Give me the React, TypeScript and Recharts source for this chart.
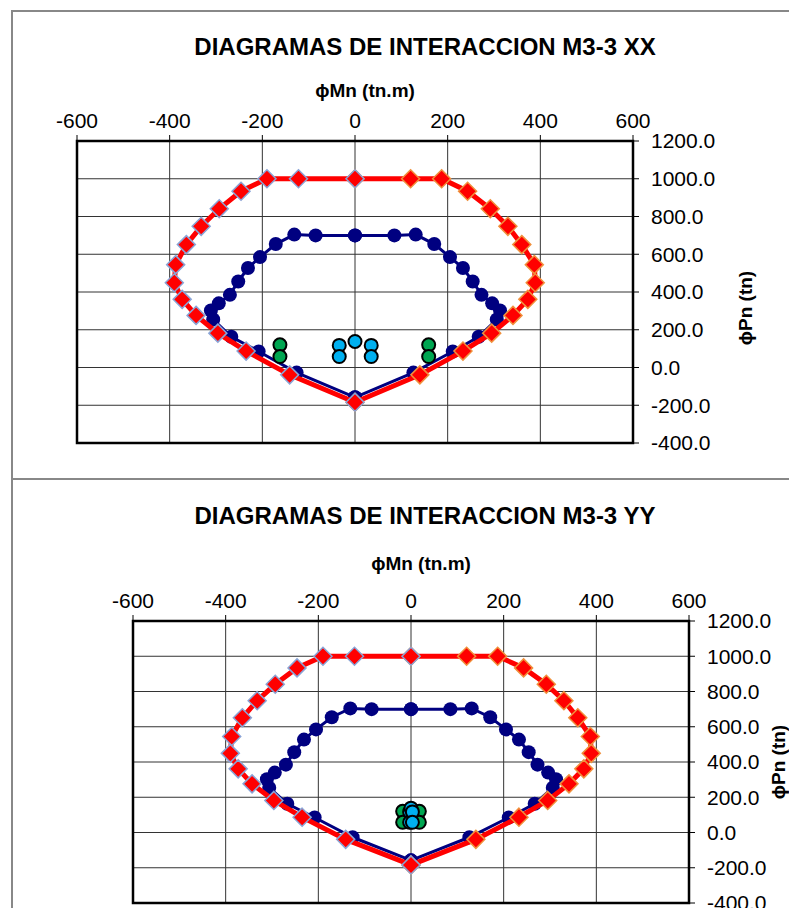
import { ScatterChart, Scatter, XAxis, YAxis, CartesianGrid, ReferenceArea } from "recharts";

const FONT = '"Liberation Sans", Arial, sans-serif';

const mTicks = [-600, -400, -200, 0, 200, 400, 600];
const pTicks = [-400, -200, 0, 200, 400, 600, 800, 1000, 1200];

// outer curve (red diamonds), left and right halves share the P values
const outerP = [1000, 1000, 1000, 934, 841, 748, 651, 545, 449, 361, 276, 182, 87, -39, -184];
const outerLeftM = [0, -122, -190, -246, -293, -332, -364, -387, -390, -373, -343, -296, -235, -141, 0];
const outerRightM = [0, 120, 187, 243, 292, 330, 360, 387, 389, 373, 341, 295, 233, 140, 0];

// inner curve (navy circles)
const innerP = [700, 700, 704, 654, 585, 527, 456, 385, 340, 302, 254, 163, 85, -27, -158];
const innerLeftM = [0, -85, -131, -171, -205, -231, -252, -270, -294, -311, -306, -267, -208, -126, 0];
const innerRightM = [0, 85, 131, 171, 205, 233, 254, 273, 296, 313, 306, 267, 211, 126, 0];

// demand points
const greenP = [120, 58, 120, 58];
const cyanP = [117, 58, 138, 117, 58];
const xxGreenM = [-162, -162, 159, 159];
const xxCyanM = [-34, -34, 0, 35, 35];
const yyGreenM = [-18, -18, 18, 18];
const yyCyanM = [-3, -3, 0, 3, 3];

const toPoints = (m: number[], p: number[]) => m.map((x, i) => ({ x, y: p[i] }));

const diamond = (edge: string) => (props: any) => {
  const { cx, cy } = props;
  if (cx == null || cy == null) return <g />;
  const r = 9;
  return (
    <polygon
      points={`${cx},${cy - r} ${cx + r},${cy} ${cx},${cy + r} ${cx - r},${cy}`}
      fill="#ff0000"
      stroke={edge}
      strokeWidth={1.5}
    />
  );
};

const dot = (fill: string, stroke: string, r: number, sw: number) => (props: any) => {
  const { cx, cy } = props;
  if (cx == null || cy == null) return <g />;
  return <circle cx={cx} cy={cy} r={r} fill={fill} stroke={stroke} strokeWidth={sw} />;
};

interface DiagramProps {
  top: number;
  plotLeft: number;
  plotHeight: number;
  title: string;
  titleTop: number;
  axisTitleTop: number;
  yLabelX: number;
  yLabelY: number;
  greenM: number[];
  cyanM: number[];
}

const Diagram = ({ top, plotLeft, plotHeight, title, titleTop, axisTitleTop, yLabelX, yLabelY, greenM, cyanM }: DiagramProps) => {
  const chartTop = top - 41;
  const height = 41 + plotHeight + 17;
  const plotWidth = 556;
  const right = 789 - plotLeft - plotWidth - 100;
  return (
    <>
      <div
        style={{
          position: "absolute",
          left: 425,
          top: titleTop,
          transform: "translateX(-50%)",
          whiteSpace: "nowrap",
          fontFamily: FONT,
          fontWeight: "bold",
          fontSize: 24,
          lineHeight: "24px",
        }}
      >
        {title}
      </div>
      <div
        style={{
          position: "absolute",
          left: plotLeft + plotWidth / 2 + 10,
          top: axisTitleTop,
          transform: "translateX(-50%)",
          whiteSpace: "nowrap",
          fontFamily: FONT,
          fontWeight: "bold",
          fontSize: 19,
          lineHeight: "19px",
        }}
      >
        ϕMn (tn.m)
      </div>
      <div
        style={{
          position: "absolute",
          left: yLabelX,
          top: yLabelY,
          transform: "translate(-50%, -50%) rotate(-90deg)",
          whiteSpace: "nowrap",
          fontFamily: FONT,
          fontWeight: "bold",
          fontSize: 19,
          lineHeight: "19px",
        }}
      >
        ϕPn (tn)
      </div>
      <div style={{ position: "absolute", left: 0, top: chartTop }}>
        <ScatterChart width={789} height={height} margin={{ top: 11, right, bottom: 17, left: plotLeft }}>
          <CartesianGrid stroke="#333" strokeWidth={1} />
          <XAxis
            type="number"
            dataKey="x"
            orientation="top"
            height={30}
            domain={[-600, 600]}
            ticks={mTicks}
            interval={0}
            allowDataOverflow
            axisLine={false}
            tickLine={{ stroke: "#000" }}
            tickSize={6}
            tickMargin={7}
            tick={{ fill: "#000", fontSize: 21, fontFamily: FONT }}
          />
          <YAxis
            type="number"
            dataKey="y"
            orientation="right"
            width={100}
            domain={[-400, 1200]}
            ticks={pTicks}
            interval={0}
            allowDataOverflow
            axisLine={false}
            tickLine={{ stroke: "#000" }}
            tickSize={6}
            tickMargin={12}
            tickFormatter={(v: number) => v.toFixed(1)}
            tick={{ fill: "#000", fontSize: 21, fontFamily: FONT, textAnchor: "start" }}
          />
          <ReferenceArea x1={-600} x2={600} y1={-400} y2={1200} fill="none" fillOpacity={0} stroke="#000" strokeWidth={2.5} />
          <Scatter
            data={toPoints(innerLeftM, innerP)}
            line={{ stroke: "#000080", strokeWidth: 3, fill: "none" }}
            lineType="joint"
            shape={dot("#000080", "none", 7, 0)}
            isAnimationActive={false}
          />
          <Scatter
            data={toPoints(innerRightM, innerP)}
            line={{ stroke: "#000080", strokeWidth: 3, fill: "none" }}
            lineType="joint"
            shape={dot("#000080", "none", 7, 0)}
            isAnimationActive={false}
          />
          <Scatter
            data={toPoints(outerRightM, outerP)}
            line={{ stroke: "#ff0000", strokeWidth: 5, fill: "none" }}
            lineType="joint"
            shape={diamond("#f0903c")}
            isAnimationActive={false}
          />
          <Scatter
            data={toPoints(outerLeftM, outerP)}
            line={{ stroke: "#ff0000", strokeWidth: 5, fill: "none" }}
            lineType="joint"
            shape={diamond("#8aa4d6")}
            isAnimationActive={false}
          />
          <Scatter data={toPoints(greenM, greenP)} shape={dot("#00a651", "#000", 6.5, 2)} isAnimationActive={false} />
          <Scatter data={toPoints(cyanM, cyanP)} shape={dot("#00b0f0", "#000", 6.5, 2)} isAnimationActive={false} />
        </ScatterChart>
      </div>
    </>
  );
};

export default function App() {
  return (
    <div style={{ position: "absolute", left: 0, top: 0, width: 789, height: 908, overflow: "hidden", background: "#fff" }}>
      <div style={{ position: "absolute", left: 11, top: 10, width: 800, height: 466, border: "2px solid #888" }} />
      <div style={{ position: "absolute", left: 11, top: 478, width: 800, height: 500, border: "2px solid #888" }} />
      <Diagram
        top={141}
        plotLeft={77}
        plotHeight={302}
        title="DIAGRAMAS DE INTERACCION M3-3 XX"
        titleTop={35}
        axisTitleTop={81}
        yLabelX={745}
        yLabelY={308}
        greenM={xxGreenM}
        cyanM={xxCyanM}
      />
      <Diagram
        top={621}
        plotLeft={133}
        plotHeight={282}
        title="DIAGRAMAS DE INTERACCION M3-3 YY"
        titleTop={504}
        axisTitleTop={554}
        yLabelX={778}
        yLabelY={762}
        greenM={yyGreenM}
        cyanM={yyCyanM}
      />
    </div>
  );
}
